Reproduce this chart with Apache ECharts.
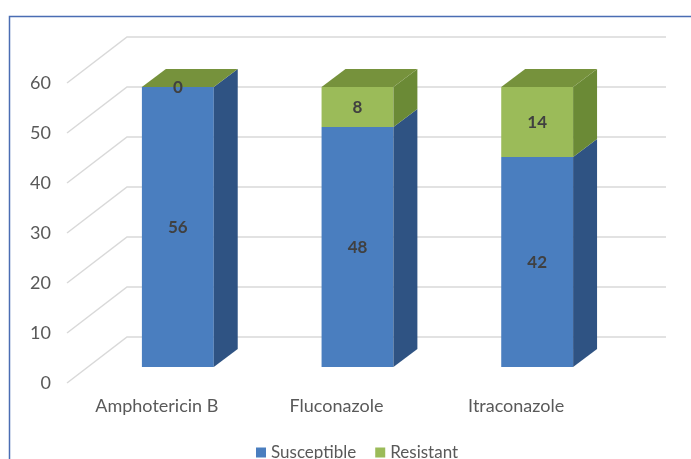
<!DOCTYPE html>
<html><head><meta charset="utf-8">
<script src="https://cdn.jsdelivr.net/npm/echarts@6/dist/echarts.min.js"></script>
<style>html,body{margin:0;padding:0;background:#fff}#c{width:691px;height:459px}</style>
</head><body><div id="c"></div>
<script>
const categories = ['Amphotericin B', 'Fluconazole', 'Itraconazole'];
const susceptible = [56, 48, 42];
const resistant = [0, 8, 14];
const yTicks = [0, 10, 20, 30, 40, 50, 60];

const FRONT = [-21, 16];
const BACK = [39, -30];
const FONT = 'Lato';
const BLUE = { front: '#4a7ebf', side: '#2f5383', top: '#3d6aa3' };
const GREEN = { front: '#9bbb59', side: '#6b8a36', top: '#76923c' };

function makeBar(colors, withTop) {
  return function (params, api) {
    const i = api.value(0), base = api.value(1), val = api.value(2);
    const bw = api.size([1, 0])[0] * 0.4;
    const dx = bw / 3, dy = bw / 4;
    const b = api.coord([i, base]);
    const t = api.coord([i, base + val]);
    const xl = b[0] - bw / 2, xr = b[0] + bw / 2, yb = b[1], yt = t[1];
    const children = [
      { type: 'rect', shape: { x: xl, y: yt, width: bw, height: yb - yt }, style: { fill: colors.front } },
      { type: 'polygon', shape: { points: [[xr, yt], [xr + dx, yt - dy], [xr + dx, yb - dy], [xr, yb]] }, style: { fill: colors.side } }
    ];
    if (withTop) {
      children.push({ type: 'polygon', shape: { points: [[xl, yt], [xl + dx, yt - dy], [xr + dx, yt - dy], [xr, yt]] }, style: { fill: colors.top } });
    }
    children.push({
      type: 'text', x: b[0], y: (yb + yt) / 2 + 1,
      style: { text: String(val), fill: '#404040', font: 'bold 17px ' + FONT, align: 'center', verticalAlign: 'middle' }
    });
    return { type: 'group', children: children };
  };
}

const chart = echarts.init(document.getElementById('c'), null, { renderer: 'canvas' });
chart.setOption({
  animation: false,
  backgroundColor: '#ffffff',
  graphic: [{
    type: 'rect', left: 7, top: 14, shape: { width: 720, height: 480 },
    style: { fill: 'none', stroke: '#4a6db3', lineWidth: 1.5 }, z: 100, silent: true
  }],
  legend: {
    data: ['Susceptible', 'Resistant'],
    left: 256, top: 444, padding: 0, icon: 'rect', itemWidth: 10, itemHeight: 10, itemGap: 19,
    textStyle: { fontFamily: FONT, fontSize: 17, color: '#595959' }
  },
  grid: [
    { left: 67, right: 85, top: 83, bottom: 76 },
    { left: 88, right: 64, top: 67, bottom: 92 }
  ],
  xAxis: [
    { type: 'category', gridIndex: 0, data: categories, axisLine: { show: false }, axisTick: { show: false },
      axisLabel: { margin: 14, fontFamily: FONT, fontSize: 18, color: '#595959' } },
    { type: 'category', gridIndex: 1, data: categories, show: false }
  ],
  yAxis: [
    { type: 'value', gridIndex: 0, min: 0, max: 60, interval: 10, splitLine: { show: false },
      axisLine: { show: false }, axisTick: { show: false },
      axisLabel: { margin: 16, fontFamily: FONT, fontSize: 18, color: '#595959' } },
    { type: 'value', gridIndex: 1, min: 0, max: 60, interval: 10, show: false, splitLine: { show: false } }
  ],
  series: [
    {
      type: 'custom', name: 'walls', xAxisIndex: 1, yAxisIndex: 1, silent: true, z: 1,
      data: yTicks.map(v => [0, v]),
      encode: { x: 0, y: 1 },
      renderItem: function (params, api) {
        const y = api.coord([0, api.value(1)])[1];
        const cs = params.coordSys;
        const left = cs.x, right = cs.x + cs.width;
        return {
          type: 'polyline',
          shape: { points: [[left + FRONT[0], y + FRONT[1]], [left + BACK[0], y + BACK[1]], [right + BACK[0], y + BACK[1]]] },
          style: { stroke: '#d9d9d9', lineWidth: 1.5, fill: 'none' }
        };
      }
    },
    {
      type: 'custom', name: 'Susceptible', xAxisIndex: 1, yAxisIndex: 1, z: 2,
      itemStyle: { color: BLUE.front },
      data: categories.map((c, i) => [i, 0, susceptible[i]]),
      encode: { x: 0, y: 2 },
      renderItem: makeBar(BLUE, false)
    },
    {
      type: 'custom', name: 'Resistant', xAxisIndex: 1, yAxisIndex: 1, z: 3,
      itemStyle: { color: GREEN.front },
      data: categories.map((c, i) => [i, susceptible[i], resistant[i]]),
      encode: { x: 0, y: 2 },
      renderItem: makeBar(GREEN, true)
    }
  ]
});
</script>
</body></html>
